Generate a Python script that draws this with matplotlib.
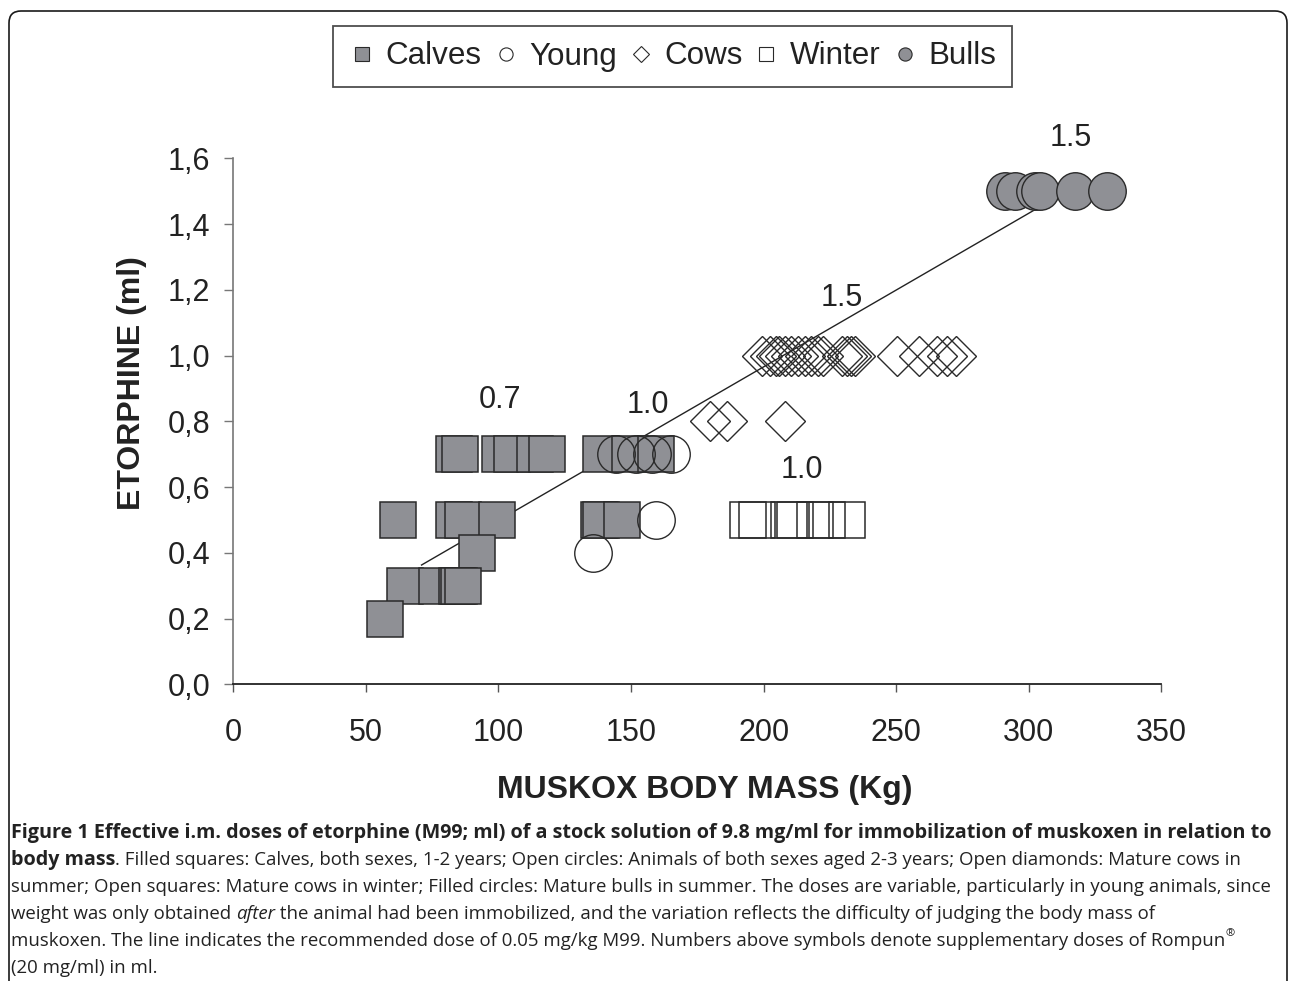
import matplotlib
matplotlib.use('Agg')
import matplotlib.pyplot as plt
from matplotlib.lines import Line2D
from matplotlib.patches import FancyBboxPatch

plt.rcParams['font.family'] = ['Liberation Sans', 'DejaVu Sans']

# ---------------- data ----------------
calves_x = [83.2, 85.4, 100.7, 105.0, 113.9, 118.3, 138.8, 149.7, 159.4,
            62.3, 83.2, 86.6, 99.5, 137.8, 138.6, 146.5,
            92.0,
            64.6, 76.8, 84.3, 85.3, 86.7,
            57.3]
calves_y = [0.7, 0.7, 0.7, 0.7, 0.7, 0.7, 0.7, 0.7, 0.7,
            0.5, 0.5, 0.5, 0.5, 0.5, 0.5, 0.5,
            0.4,
            0.3, 0.3, 0.3, 0.3, 0.3,
            0.2]

young_x = [144.5, 151.8, 157.8, 165.0, 159.6, 135.8]
young_y = [0.7, 0.7, 0.7, 0.7, 0.5, 0.4]

cows_x = [179.8, 186.3, 208.2,
          199.3, 202.5, 204.5, 206.0, 208.0, 210.5, 213.0, 215.5, 218.0,
          220.5, 222.5, 229.5, 231.5, 233.0, 234.3,
          250.4, 258.5, 265.4, 269.2, 272.4]
cows_y = [0.8, 0.8, 0.8,
          1.0, 1.0, 1.0, 1.0, 1.0, 1.0, 1.0, 1.0, 1.0,
          1.0, 1.0, 1.0, 1.0, 1.0, 1.0,
          1.0, 1.0, 1.0, 1.0, 1.0]

winter_x = [194.3, 197.4, 209.4, 211.9, 219.5, 223.8, 231.4]
winter_y = [0.5, 0.5, 0.5, 0.5, 0.5, 0.5, 0.5]

bulls_x = [291.2, 295.0, 302.5, 304.4, 317.5, 329.7]
bulls_y = [1.5, 1.5, 1.5, 1.5, 1.5, 1.5]

dose_line_x = [71.0, 304.0]
dose_line_y = [0.363, 1.452]

rompun_labels = ['0.7', '1.0', '1.5', '1.5', '1.0']
rompun_x = [100.6, 156.5, 229.6, 315.7, 214.6]
rompun_y = [0.865, 0.850, 1.176, 1.663, 0.652]

x_ticks = [0, 50, 100, 150, 200, 250, 300, 350]
x_ticklabels = ['0', '50', '100', '150', '200', '250', '300', '350']
y_ticks = [0.0, 0.2, 0.4, 0.6, 0.8, 1.0, 1.2, 1.4, 1.6]
y_ticklabels = ['0,0', '0,2', '0,4', '0,6', '0,8', '1,0', '1,2', '1,4', '1,6']

series_names = ['Calves', 'Young', 'Cows', 'Winter', 'Bulls']

x_label = 'MUSKOX BODY MASS (Kg)'
y_label = 'ETORPHINE (ml)'

# ---------------- figure ----------------
W, H = 1290, 981
fig = plt.figure(figsize=(W / 100, H / 100), dpi=100)

# outer rounded frame (in inches so rounding is isotropic)
frame = FancyBboxPatch((0.09, -0.6), 12.87 - 0.09, 9.70 + 0.6,
                       boxstyle='round,pad=0,rounding_size=0.12',
                       transform=fig.dpi_scale_trans, fill=False,
                       edgecolor='#1a1a1a', linewidth=1.2, zorder=0)
fig.patches.append(frame)

ax_l, ax_r, ax_t, ax_b = 233.3, 1161.3, 158.5, 684.3
ax = fig.add_axes([ax_l / W, 1 - ax_b / H, (ax_r - ax_l) / W, (ax_b - ax_t) / H])
ax.set_xlim(0, 350)
ax.set_ylim(0, 1.6)
ax.patch.set_alpha(0)

gray = '#8f9095'
edge = '#2a2a2a'

ax.plot(dose_line_x, dose_line_y, color='#222222', lw=1.0, zorder=1)

ax.plot(calves_x, calves_y, ls='none', marker='s', ms=26, mfc=gray,
        mec=edge, mew=1.1, zorder=2)
ax.plot(young_x, young_y, ls='none', marker='o', ms=27, mfc='none',
        mec=edge, mew=1.0, zorder=3)
ax.plot(cows_x, cows_y, ls='none', marker='D', ms=20.5, mfc='none',
        mec=edge, mew=1.0, zorder=3)
ax.plot(winter_x, winter_y, ls='none', marker='s', ms=26, mfc='none',
        mec=edge, mew=1.1, zorder=3)
ax.plot(bulls_x, bulls_y, ls='none', marker='o', ms=27, mfc=gray,
        mec=edge, mew=1.0, zorder=3)

for lab, xx, yy in zip(rompun_labels, rompun_x, rompun_y):
    ax.text(xx, yy, lab, fontsize=22, ha='center', va='center', color='#222222')

ax.spines['top'].set_visible(False)
ax.spines['right'].set_visible(False)
ax.spines['left'].set_color('#777777')
ax.spines['bottom'].set_color('#222222')
ax.spines['left'].set_linewidth(1.2)
ax.spines['bottom'].set_linewidth(1.3)

ax.set_xticks(x_ticks)
ax.set_xticklabels(x_ticklabels)
ax.set_yticks(y_ticks)
ax.set_yticklabels(y_ticklabels)
ax.tick_params(axis='x', direction='out', length=5.5, width=1.0, color='#555555',
               pad=19, labelsize=22, labelcolor='#222222')
ax.tick_params(axis='y', direction='out', length=6.5, width=1.0, color='#777777',
               pad=10, labelsize=22, labelcolor='#222222')

fig.text(704.5 / W, 1 - 790 / H, x_label, fontsize=23, fontweight='bold',
         ha='center', va='center', color='#222222')
fig.text(132 / W, 1 - 383 / H, y_label, fontsize=23, fontweight='bold',
         ha='center', va='center', rotation=90, color='#222222')

# legend
handles = [
    Line2D([], [], ls='none', marker='s', ms=10.5, mfc=gray, mec=edge, mew=0.8),
    Line2D([], [], ls='none', marker='o', ms=9.5, mfc='white', mec=edge, mew=0.8),
    Line2D([], [], ls='none', marker='D', ms=8.5, mfc='white', mec=edge, mew=0.8),
    Line2D([], [], ls='none', marker='s', ms=10.5, mfc='white', mec=edge, mew=0.8),
    Line2D([], [], ls='none', marker='o', ms=9.5, mfc=gray, mec=edge, mew=0.8),
]
leg = fig.legend(handles, series_names, loc='center',
                 bbox_to_anchor=((343 + 1002) / 2 / W, 1 - 56.5 / H),
                 ncol=5, fontsize=22.6, frameon=True, fancybox=False,
                 edgecolor='#222222', handlelength=0.85, handletextpad=0.33,
                 columnspacing=0.33, borderpad=0.5, borderaxespad=0)
leg.get_frame().set_linewidth(1.3)
for t in leg.get_texts():
    t.set_color('#222222')

# ---------------- caption ----------------
cap_font = ['Open Sans', 'DejaVu Sans']
caption_lines = [
    [("Figure 1 Effective i.m. doses of etorphine (M99; ml) of a stock solution of 9.8 mg/ml "
      "for immobilization of muskoxen in relation to", 'bold', 'normal', False)],
    [("body mass", 'bold', 'normal', False),
     (". Filled squares: Calves, both sexes, 1-2 years; Open circles: Animals of both sexes "
      "aged 2-3 years; Open diamonds: Mature cows in", 'normal', 'normal', False)],
    [("summer; Open squares: Mature cows in winter; Filled circles: Mature bulls in summer. "
      "The doses are variable, particularly in young animals, since", 'normal', 'normal', False)],
    [("weight was only obtained ", 'normal', 'normal', False),
     ("after", 'normal', 'italic', False),
     (" the animal had been immobilized, and the variation reflects the difficulty of "
      "judging the body mass of", 'normal', 'normal', False)],
    [("muskoxen. The line indicates the recommended dose of 0.05 mg/kg M99. Numbers above "
      "symbols denote supplementary doses of Rompun", 'normal', 'normal', False),
     ("\u00ae", 'normal', 'normal', True)],
    [("(20 mg/ml) in ml.", 'normal', 'normal', False)],
]

fig.canvas.draw()
renderer = fig.canvas.get_renderer()

cap_left = 11
# bold size: first line spans 11 -> 1277 px
probe = fig.text(0, 0, caption_lines[0][0][0], fontsize=14, fontweight='bold',
                 family=cap_font)
wb = probe.get_window_extent(renderer).width
probe.remove()
bold_size = 14 * (1277 - cap_left) / wb
# regular size: third line spans 11 -> 1273 px
probe = fig.text(0, 0, caption_lines[2][0][0], fontsize=14, family=cap_font)
wr = probe.get_window_extent(renderer).width
probe.remove()
reg_size = 14 * (1273 - cap_left) / wr

line_y0 = 833
line_step = 27
for i, pieces in enumerate(caption_lines):
    xpix = cap_left
    ypix = line_y0 + i * line_step
    for txt, weight, style, sup in pieces:
        base = bold_size if weight == 'bold' else reg_size
        size = base * (0.6 if sup else 1.0)
        yy = ypix - (7 if sup else 0)
        t = fig.text(xpix / W, 1 - yy / H, txt, fontsize=size, fontweight=weight,
                     fontstyle=style, family=cap_font, ha='left', va='center',
                     color='#222222')
        xpix += t.get_window_extent(renderer).width

fig.savefig('out.png', dpi=100)
